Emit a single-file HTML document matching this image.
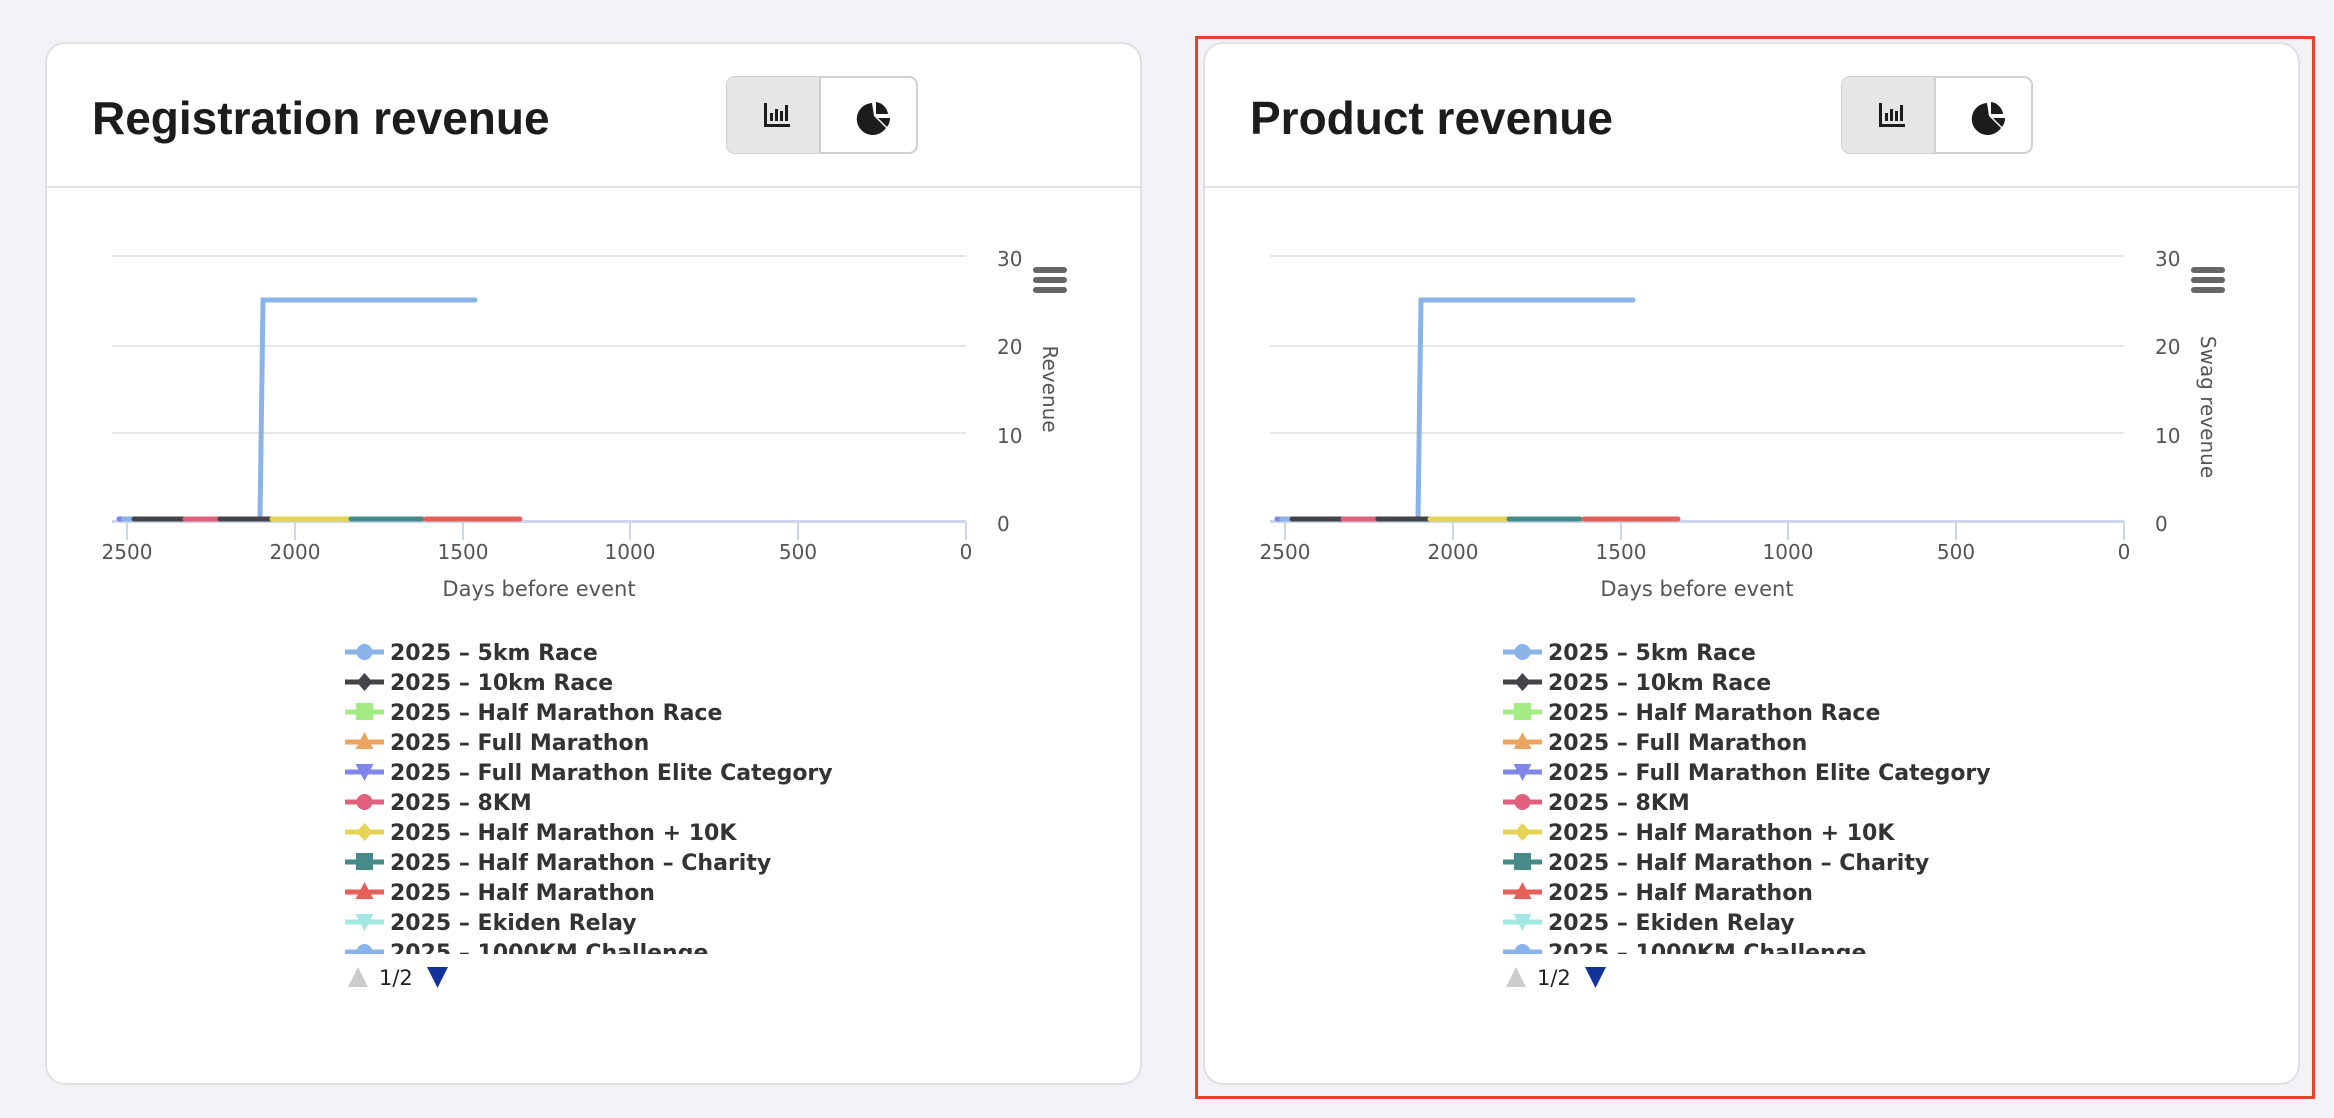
<!DOCTYPE html>
<html><head><meta charset="utf-8"><style>
html,body{margin:0;padding:0;background:#f3f3f7;width:2334px;height:1118px;overflow:hidden;font-family:"Liberation Sans","DejaVu Sans",sans-serif}
.card{position:absolute;top:42px;width:1097px;height:1043px;background:#fff;border:2px solid #e0e0e3;border-radius:20px;box-sizing:border-box;overflow:hidden}
.card svg{position:absolute;left:-2px;top:-2px}
.sel{position:absolute;left:1195px;top:36px;width:1120px;height:1063px;border:3px solid #e5432b;box-sizing:border-box}
</style></head><body>
<div class="sel"></div>

<div class="card" style="left:45px">
<svg width="1097" height="1043" viewBox="0 0 1097 1043" xmlns="http://www.w3.org/2000/svg">
<text x="47" y="92" font-size="46" font-weight="bold" fill="#1c1c1c" font-family="Liberation Sans, sans-serif">Registration revenue</text>
<rect x="682" y="35" width="190" height="76" rx="8" fill="#fff" stroke="#d0d0d0" stroke-width="2"/>
<path d="M690 35 H775 V111 H690 a8 8 0 0 1 -8 -8 V43 a8 8 0 0 1 8 -8z" fill="#e6e6e6"/>
<line x1="775" y1="35" x2="775" y2="111" stroke="#d0d0d0" stroke-width="2"/>
<g fill="#1c1c1c"><rect x="719" y="61" width="3" height="24"/><rect x="719" y="82" width="26" height="3"/><rect x="725" y="71" width="3" height="8"/><rect x="730" y="67" width="3" height="12"/><rect x="735" y="69" width="3" height="10"/><rect x="740" y="63" width="3" height="16"/></g>
<path d="M827 61 A16 16 0 1 0 841 86 L829 74 Z" fill="#1c1c1c"/><path d="M831 60 A14 14 0 0 1 843 72 L831 72Z" fill="#1c1c1c"/><path d="M833 76 L845 76 A14 14 0 0 1 842 85Z" fill="#1c1c1c"/>
<line x1="0" y1="145" x2="1097" y2="145" stroke="#e2e2e2" stroke-width="2"/>
<g stroke="#e6e6e6" stroke-width="2"><line x1="67" y1="214" x2="921" y2="214"/><line x1="67" y1="304" x2="921" y2="304"/><line x1="67" y1="391" x2="921" y2="391"/></g>
<line x1="67" y1="479.5" x2="921" y2="479.5" stroke="#ccd6eb" stroke-width="3"/>
<g stroke="#ccd6eb" stroke-width="2"><line x1="82" y1="480" x2="82" y2="498"/><line x1="250" y1="480" x2="250" y2="498"/><line x1="418" y1="480" x2="418" y2="498"/><line x1="585" y1="480" x2="585" y2="498"/><line x1="753" y1="480" x2="753" y2="498"/><line x1="921" y1="480" x2="921" y2="498"/></g>
<g font-size="20" fill="#555" font-family="DejaVu Sans, sans-serif" text-anchor="middle"><text x="82" y="517">2500</text><text x="250" y="517">2000</text><text x="418" y="517">1500</text><text x="585" y="517">1000</text><text x="753" y="517">500</text><text x="921" y="517">0</text></g>
<g font-size="20" fill="#555" font-family="DejaVu Sans, sans-serif"><text x="952" y="224">30</text><text x="952" y="312">20</text><text x="952" y="401">10</text><text x="952" y="489">0</text></g>
<text x="494" y="554" font-size="21" fill="#555" text-anchor="middle" font-family="DejaVu Sans, sans-serif">Days before event</text>
<text transform="translate(998,347) rotate(90)" font-size="20" fill="#555" text-anchor="middle" font-family="DejaVu Sans, sans-serif">Revenue</text>
<g stroke="#666" stroke-width="6" stroke-linecap="round"><line x1="991" y1="228" x2="1019" y2="228"/><line x1="991" y1="238" x2="1019" y2="238"/><line x1="991" y1="248" x2="1019" y2="248"/></g>
<g stroke-width="5" stroke-linecap="round" fill="none">
<polyline points="74,477 215,477 218,258 430,258" stroke="#8ab4e8"/>
<line x1="74" y1="477" x2="79" y2="477" stroke="#8085e9"/><line x1="79" y1="477" x2="88" y2="477" stroke="#8ab4e8"/>
<line x1="89" y1="477" x2="140" y2="477" stroke="#434348"/><line x1="140" y1="477" x2="175" y2="477" stroke="#e0607e"/>
<line x1="175" y1="477" x2="227" y2="477" stroke="#434348"/><line x1="227" y1="477" x2="306" y2="477" stroke="#e4d354"/>
<line x1="306" y1="477" x2="377" y2="477" stroke="#468b88"/><line x1="381" y1="477" x2="475" y2="477" stroke="#e6605a"/>
</g>
<defs><clipPath id="lc1"><rect x="290" y="590" width="600" height="322"/></clipPath></defs>
<g clip-path="url(#lc1)" font-size="22" font-weight="bold" fill="#333" font-family="DejaVu Sans, sans-serif">
<g stroke-width="5"><line x1="300" y1="610" x2="339" y2="610" stroke="#8ab4e8"/><line x1="300" y1="640" x2="339" y2="640" stroke="#434348"/><line x1="300" y1="670" x2="339" y2="670" stroke="#a3ec85"/><line x1="300" y1="700" x2="339" y2="700" stroke="#eba563"/><line x1="300" y1="730" x2="339" y2="730" stroke="#8085e9"/><line x1="300" y1="760" x2="339" y2="760" stroke="#e0607e"/><line x1="300" y1="790" x2="339" y2="790" stroke="#e4d354"/><line x1="300" y1="820" x2="339" y2="820" stroke="#468b88"/><line x1="300" y1="850" x2="339" y2="850" stroke="#e6605a"/><line x1="300" y1="880" x2="339" y2="880" stroke="#a2e8e0"/><line x1="300" y1="910" x2="339" y2="910" stroke="#8ab4e8"/></g>
<circle cx="319.5" cy="610" r="8" fill="#8ab4e8"/><path d="M319.5 631 l8 9 -8 9 -8 -9z" fill="#434348"/><rect x="311" y="661" width="17" height="17" fill="#a3ec85"/><path d="M319.5 690 l9 17 h-18z" fill="#eba563"/><path d="M310.5 722 h18 l-9 17z" fill="#8085e9"/><circle cx="319.5" cy="760" r="8" fill="#e0607e"/><path d="M319.5 781 l8 9 -8 9 -8 -9z" fill="#e4d354"/><rect x="311" y="811" width="17" height="17" fill="#468b88"/><path d="M319.5 840 l9 17 h-18z" fill="#e6605a"/><path d="M310.5 872 h18 l-9 17z" fill="#a2e8e0"/><circle cx="319.5" cy="910" r="8" fill="#8ab4e8"/>
<text x="345" y="618">2025 – 5km Race</text><text x="345" y="648">2025 – 10km Race</text><text x="345" y="678">2025 – Half Marathon Race</text><text x="345" y="708">2025 – Full Marathon</text><text x="345" y="738">2025 – Full Marathon Elite Category</text><text x="345" y="768">2025 – 8KM</text><text x="345" y="798">2025 – Half Marathon + 10K</text><text x="345" y="828">2025 – Half Marathon – Charity</text><text x="345" y="858">2025 – Half Marathon</text><text x="345" y="888">2025 – Ekiden Relay</text><text x="345" y="918">2025 – 1000KM Challenge</text>
</g>
<path d="M303 945 l10 -20 10 20z" fill="#cccccc"/>
<text x="334" y="943" font-size="21" fill="#222" font-family="DejaVu Sans, sans-serif">1/2</text>
<path d="M382 925 h21 l-10.5 21z" fill="#14339a"/>
</svg>
</div>

<div class="card" style="left:1203px">
<svg width="1097" height="1043" viewBox="0 0 1097 1043" xmlns="http://www.w3.org/2000/svg">
<text x="47" y="92" font-size="46" font-weight="bold" fill="#1c1c1c" font-family="Liberation Sans, sans-serif">Product revenue</text>
<g transform="translate(-43,0)">
<rect x="682" y="35" width="190" height="76" rx="8" fill="#fff" stroke="#d0d0d0" stroke-width="2"/>
<path d="M690 35 H775 V111 H690 a8 8 0 0 1 -8 -8 V43 a8 8 0 0 1 8 -8z" fill="#e6e6e6"/>
<line x1="775" y1="35" x2="775" y2="111" stroke="#d0d0d0" stroke-width="2"/>
<g fill="#1c1c1c"><rect x="719" y="61" width="3" height="24"/><rect x="719" y="82" width="26" height="3"/><rect x="725" y="71" width="3" height="8"/><rect x="730" y="67" width="3" height="12"/><rect x="735" y="69" width="3" height="10"/><rect x="740" y="63" width="3" height="16"/></g>
<path d="M827 61 A16 16 0 1 0 841 86 L829 74 Z" fill="#1c1c1c"/><path d="M831 60 A14 14 0 0 1 843 72 L831 72Z" fill="#1c1c1c"/><path d="M833 76 L845 76 A14 14 0 0 1 842 85Z" fill="#1c1c1c"/>
</g>
<line x1="0" y1="145" x2="1097" y2="145" stroke="#e2e2e2" stroke-width="2"/>
<g stroke="#e6e6e6" stroke-width="2"><line x1="67" y1="214" x2="921" y2="214"/><line x1="67" y1="304" x2="921" y2="304"/><line x1="67" y1="391" x2="921" y2="391"/></g>
<line x1="67" y1="479.5" x2="921" y2="479.5" stroke="#ccd6eb" stroke-width="3"/>
<g stroke="#ccd6eb" stroke-width="2"><line x1="82" y1="480" x2="82" y2="498"/><line x1="250" y1="480" x2="250" y2="498"/><line x1="418" y1="480" x2="418" y2="498"/><line x1="585" y1="480" x2="585" y2="498"/><line x1="753" y1="480" x2="753" y2="498"/><line x1="921" y1="480" x2="921" y2="498"/></g>
<g font-size="20" fill="#555" font-family="DejaVu Sans, sans-serif" text-anchor="middle"><text x="82" y="517">2500</text><text x="250" y="517">2000</text><text x="418" y="517">1500</text><text x="585" y="517">1000</text><text x="753" y="517">500</text><text x="921" y="517">0</text></g>
<g font-size="20" fill="#555" font-family="DejaVu Sans, sans-serif"><text x="952" y="224">30</text><text x="952" y="312">20</text><text x="952" y="401">10</text><text x="952" y="489">0</text></g>
<text x="494" y="554" font-size="21" fill="#555" text-anchor="middle" font-family="DejaVu Sans, sans-serif">Days before event</text>
<text transform="translate(998,365) rotate(90)" font-size="20" fill="#555" text-anchor="middle" font-family="DejaVu Sans, sans-serif">Swag revenue</text>
<g stroke="#666" stroke-width="6" stroke-linecap="round"><line x1="991" y1="228" x2="1019" y2="228"/><line x1="991" y1="238" x2="1019" y2="238"/><line x1="991" y1="248" x2="1019" y2="248"/></g>
<g stroke-width="5" stroke-linecap="round" fill="none">
<polyline points="74,477 215,477 218,258 430,258" stroke="#8ab4e8"/>
<line x1="74" y1="477" x2="79" y2="477" stroke="#8085e9"/><line x1="79" y1="477" x2="88" y2="477" stroke="#8ab4e8"/>
<line x1="89" y1="477" x2="140" y2="477" stroke="#434348"/><line x1="140" y1="477" x2="175" y2="477" stroke="#e0607e"/>
<line x1="175" y1="477" x2="227" y2="477" stroke="#434348"/><line x1="227" y1="477" x2="306" y2="477" stroke="#e4d354"/>
<line x1="306" y1="477" x2="377" y2="477" stroke="#468b88"/><line x1="381" y1="477" x2="475" y2="477" stroke="#e6605a"/>
</g>
<defs><clipPath id="lc2"><rect x="290" y="590" width="600" height="322"/></clipPath></defs>
<g clip-path="url(#lc2)" font-size="22" font-weight="bold" fill="#333" font-family="DejaVu Sans, sans-serif">
<g stroke-width="5"><line x1="300" y1="610" x2="339" y2="610" stroke="#8ab4e8"/><line x1="300" y1="640" x2="339" y2="640" stroke="#434348"/><line x1="300" y1="670" x2="339" y2="670" stroke="#a3ec85"/><line x1="300" y1="700" x2="339" y2="700" stroke="#eba563"/><line x1="300" y1="730" x2="339" y2="730" stroke="#8085e9"/><line x1="300" y1="760" x2="339" y2="760" stroke="#e0607e"/><line x1="300" y1="790" x2="339" y2="790" stroke="#e4d354"/><line x1="300" y1="820" x2="339" y2="820" stroke="#468b88"/><line x1="300" y1="850" x2="339" y2="850" stroke="#e6605a"/><line x1="300" y1="880" x2="339" y2="880" stroke="#a2e8e0"/><line x1="300" y1="910" x2="339" y2="910" stroke="#8ab4e8"/></g>
<circle cx="319.5" cy="610" r="8" fill="#8ab4e8"/><path d="M319.5 631 l8 9 -8 9 -8 -9z" fill="#434348"/><rect x="311" y="661" width="17" height="17" fill="#a3ec85"/><path d="M319.5 690 l9 17 h-18z" fill="#eba563"/><path d="M310.5 722 h18 l-9 17z" fill="#8085e9"/><circle cx="319.5" cy="760" r="8" fill="#e0607e"/><path d="M319.5 781 l8 9 -8 9 -8 -9z" fill="#e4d354"/><rect x="311" y="811" width="17" height="17" fill="#468b88"/><path d="M319.5 840 l9 17 h-18z" fill="#e6605a"/><path d="M310.5 872 h18 l-9 17z" fill="#a2e8e0"/><circle cx="319.5" cy="910" r="8" fill="#8ab4e8"/>
<text x="345" y="618">2025 – 5km Race</text><text x="345" y="648">2025 – 10km Race</text><text x="345" y="678">2025 – Half Marathon Race</text><text x="345" y="708">2025 – Full Marathon</text><text x="345" y="738">2025 – Full Marathon Elite Category</text><text x="345" y="768">2025 – 8KM</text><text x="345" y="798">2025 – Half Marathon + 10K</text><text x="345" y="828">2025 – Half Marathon – Charity</text><text x="345" y="858">2025 – Half Marathon</text><text x="345" y="888">2025 – Ekiden Relay</text><text x="345" y="918">2025 – 1000KM Challenge</text>
</g>
<path d="M303 945 l10 -20 10 20z" fill="#cccccc"/>
<text x="334" y="943" font-size="21" fill="#222" font-family="DejaVu Sans, sans-serif">1/2</text>
<path d="M382 925 h21 l-10.5 21z" fill="#14339a"/>
</svg>
</div>
</body></html>
